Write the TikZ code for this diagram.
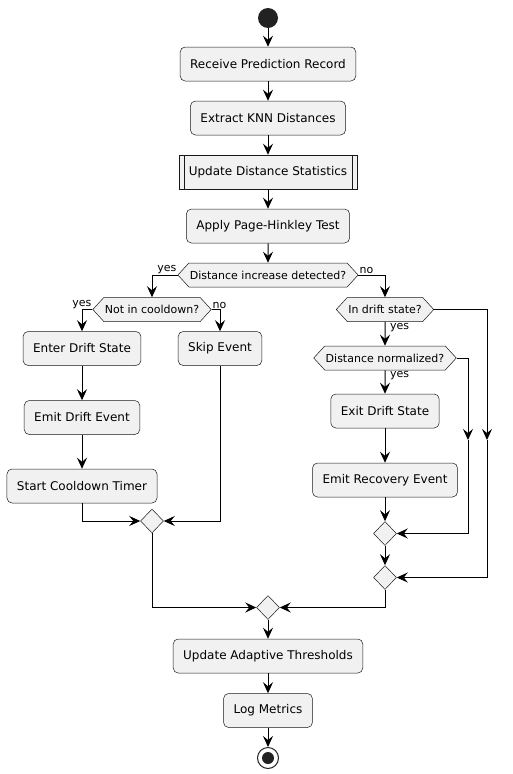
\documentclass[tikz,border=0pt]{standalone}
\usepackage{fontspec}
\setmainfont{DejaVu Sans}
\usetikzlibrary{arrows.meta,shapes.geometric,shapes.symbols}
\definecolor{boxfill}{HTML}{F1F1F1}
\definecolor{boxline}{HTML}{181818}
\definecolor{dot}{HTML}{222222}
\begin{document}
\begin{tikzpicture}[x=1pt,y=-1pt,
  act/.style={draw=boxline,line width=0.5pt,fill=boxfill,rounded corners=5pt,minimum height=34pt,inner xsep=10pt,font=\fontsize{12}{14}\selectfont},
  sub/.style={act,rounded corners=0pt,path picture={
    \draw[boxline,line width=0.5pt] ([xshift=5pt]path picture bounding box.north west) -- ([xshift=5pt]path picture bounding box.south west);
    \draw[boxline,line width=0.5pt] ([xshift=-5pt]path picture bounding box.north east) -- ([xshift=-5pt]path picture bounding box.south east);}},
  dec/.style={draw=boxline,line width=0.5pt,fill=boxfill,shape=signal,signal to=west and east,signal pointer angle=95,minimum height=24pt,inner xsep=1pt,font=\fontsize{11}{13}\selectfont},
  mrg/.style={draw=boxline,line width=0.5pt,fill=boxfill,diamond,minimum width=23pt,minimum height=24pt,inner sep=0pt},
  lbl/.style={inner sep=1pt,font=\fontsize{11}{13}\selectfont},
  flow/.style={-{Stealth[length=11pt,width=10pt,inset=4pt]},line width=1pt}]
  \useasboundingbox (0,0) rectangle (513,774);

  \node[circle,fill=dot,minimum size=20pt,inner sep=0pt] (start) at (268,18) {};
  \node[act] (recv) at (268,64) {Receive Prediction Record};
  \node[act] (extr) at (268,118) {Extract KNN Distances};
  \node[sub] (upds) at (268,172) {Update Distance Statistics};
  \node[act] (aply) at (268,226) {Apply Page-Hinkley Test};
  \node[dec] (dec1) at (268,275) {Distance increase detected?};

  \node[dec] (cool) at (152,309.5) {Not in cooldown?};
  \node[act] (enter) at (82,348.5) {Enter Drift State};
  \node[act] (skip) at (220,348.5) {Skip Event};
  \node[act] (emit) at (82,417.5) {Emit Drift Event};
  \node[act] (timer) at (82,486) {Start Cooldown Timer};
  \node[mrg] (m1) at (152,521) {};

  \node[dec] (drift) at (385,309.5) {In drift state?};
  \node[dec] (norm) at (385,358) {Distance normalized?};
  \node[act] (exit) at (385,411) {Exit Drift State};
  \node[act] (recov) at (385,480) {Emit Recovery Event};
  \node[mrg] (m2) at (385,533.5) {};
  \node[mrg] (m3) at (385,577.5) {};
  \coordinate (nr) at (468,440);
  \coordinate (dr) at (487,440);

  \node[mrg] (m4) at (268,607.5) {};
  \node[act] (thr) at (268,656) {Update Adaptive Thresholds};
  \node[act] (log) at (268,710.5) {Log Metrics};
  \node[circle,draw=dot,line width=1pt,fill=white,minimum size=21pt,inner sep=0pt] (stop) at (268,758) {};
  \node[circle,fill=dot,minimum size=12pt,inner sep=0pt] (stopdot) at (stop) {};

  \node[lbl,anchor=south east] (y1) at (dec1.west) {yes};
  \node[lbl,anchor=south west] (n1) at (dec1.east) {no};
  \node[lbl,anchor=south east] (y2) at (cool.west) {yes};
  \node[lbl,anchor=south west] (n2) at (cool.east) {no};
  \node[lbl,anchor=north west,xshift=4pt] (y3) at (drift.south) {yes};
  \node[lbl,anchor=north west,xshift=4pt] (y4) at (norm.south) {yes};

  \draw[flow] (start) -- (recv);
  \draw[flow] (recv) -- (extr);
  \draw[flow] (extr) -- (upds);
  \draw[flow] (upds) -- (aply);
  \draw[flow] (aply) -- (dec1);
  \draw[flow] (dec1.west) -| (cool.north);
  \draw[flow] (dec1.east) -| (drift.north);
  \draw[flow] (cool.west) -| (enter.north);
  \draw[flow] (cool.east) -| (skip.north);
  \draw[flow] (enter) -- (emit);
  \draw[flow] (emit) -- (timer);
  \draw[flow] (timer.south) |- (m1.west);
  \draw[flow] (skip.south) |- (m1.east);
  \draw[flow] (m1.south) |- (m4.west);
  \draw[flow] (drift) -- (norm);
  \draw[flow] (norm) -- (exit);
  \draw[flow] (exit) -- (recov);
  \draw[flow] (recov) -- (m2);
  \draw[flow] (m2) -- (m3);
  \draw[flow] (norm.east) -| (nr);
  \draw[flow] (nr) |- (m2.east);
  \draw[flow] (drift.east) -| (dr);
  \draw[flow] (dr) |- (m3.east);
  \draw[flow] (m3.south) |- (m4.east);
  \draw[flow] (m4) -- (thr);
  \draw[flow] (thr) -- (log);
  \draw[flow] (log) -- (stop);
\end{tikzpicture}
\end{document}
